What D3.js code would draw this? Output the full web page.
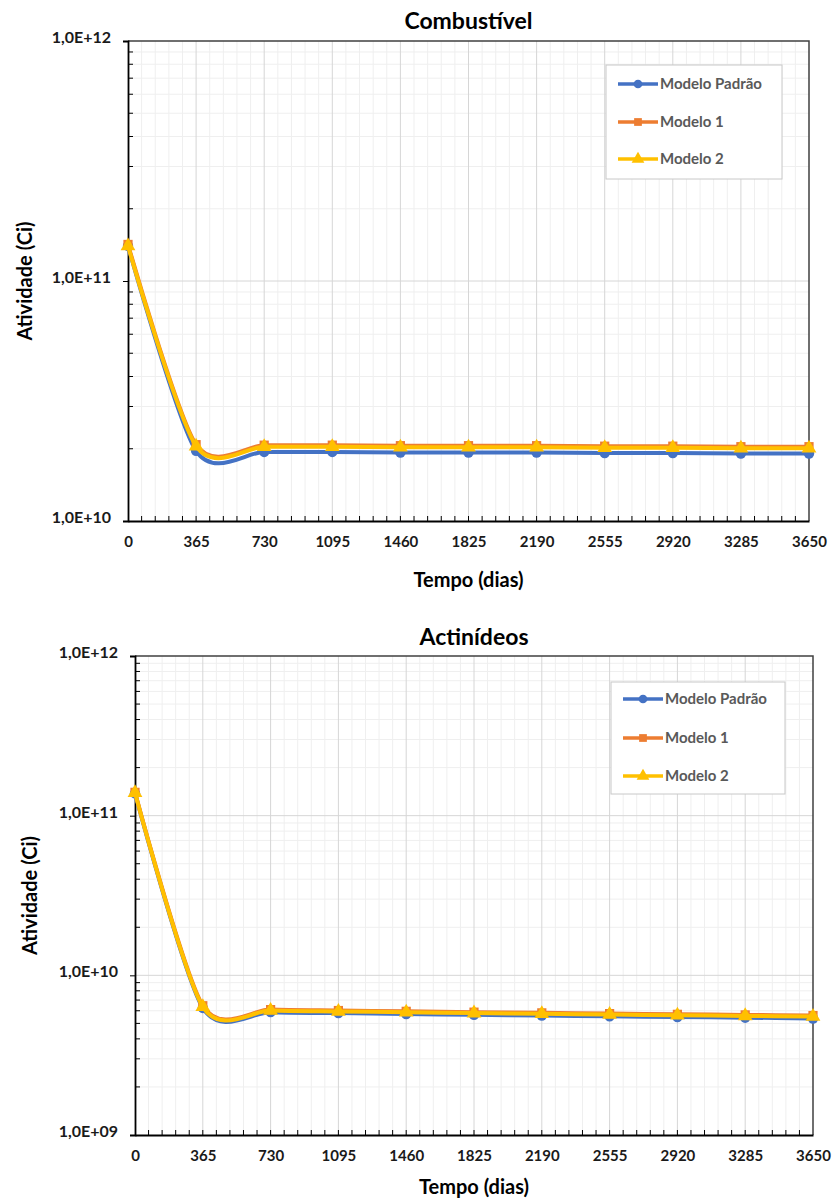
<!DOCTYPE html>
<html>
<head>
<meta charset="utf-8">
<script src="https://cdn.jsdelivr.net/npm/d3@7"></script>
<style>
  html, body { margin: 0; padding: 0; background: #fff; }
  svg { display: block; font-family: Lato, "Open Sans", sans-serif; }
</style>
</head>
<body>
<svg id="fig" width="832" height="1203"></svg>
<script>
// Time axis (days)
const days = [0, 365, 730, 1095, 1460, 1825, 2190, 2555, 2920, 3285, 3650];
const xTickLabels = ["0", "365", "730", "1095", "1460", "1825", "2190", "2555", "2920", "3285", "3650"];

// Activity (Ci) — fuel
const combPadrao  = [1.40e11, 1.96e10, 1.94e10, 1.94e10, 1.93e10, 1.93e10, 1.93e10, 1.92e10, 1.92e10, 1.91e10, 1.91e10];
const combModelo1 = [1.42e11, 2.08e10, 2.07e10, 2.07e10, 2.06e10, 2.06e10, 2.06e10, 2.05e10, 2.05e10, 2.04e10, 2.04e10];
const combModelo2 = [1.40e11, 2.05e10, 2.04e10, 2.04e10, 2.03e10, 2.03e10, 2.03e10, 2.02e10, 2.02e10, 2.01e10, 2.01e10];

// Activity (Ci) — actinides
const actPadrao  = [1.38e11, 6.25e9, 5.88e9, 5.80e9, 5.73e9, 5.66e9, 5.60e9, 5.54e9, 5.48e9, 5.43e9, 5.37e9];
const actModelo1 = [1.40e11, 6.45e9, 6.10e9, 6.02e9, 5.95e9, 5.88e9, 5.82e9, 5.76e9, 5.70e9, 5.65e9, 5.60e9];
const actModelo2 = [1.39e11, 6.35e9, 6.02e9, 5.94e9, 5.87e9, 5.80e9, 5.74e9, 5.68e9, 5.62e9, 5.57e9, 5.52e9];

const seriesNames = ["Modelo Padrão", "Modelo 1", "Modelo 2"];
const yTickLabelsTop = ["1,0E+10", "1,0E+11", "1,0E+12"];
const yTickLabelsBottom = ["1,0E+09", "1,0E+10", "1,0E+11", "1,0E+12"];

const colors = ["#4472C4", "#ED7D31", "#FFC000"];
const markers = [d3.symbolCircle, d3.symbolSquare, d3.symbolTriangle];

const svg = d3.select("#fig");

function drawChart(cfg) {
  const { left, right, top, bottom, yDomain, yLabels, title, series, legend } = cfg;
  const g = svg.append("g");

  const x = d3.scaleLinear().domain([0, 3650]).range([left, right]);
  const y = d3.scaleLog().domain(yDomain).range([bottom, top]);

  const lo = Math.round(Math.log10(yDomain[0]));
  const hi = Math.round(Math.log10(yDomain[1]));
  const majorY = d3.range(lo, hi + 1).map(e => Math.pow(10, e));
  const minorY = [];
  for (let e = lo; e < hi; e++) for (let k = 2; k <= 9; k++) minorY.push(k * Math.pow(10, e));
  const minorX = d3.range(0, 3650 + 1, 73).filter(v => v % 365 !== 0);

  // minor grid
  g.append("g").selectAll("line").data(minorX).join("line")
    .attr("x1", d => x(d)).attr("x2", d => x(d)).attr("y1", top).attr("y2", bottom)
    .attr("stroke", "#efefef").attr("stroke-width", 1);
  g.append("g").selectAll("line").data(minorY).join("line")
    .attr("x1", left).attr("x2", right).attr("y1", d => y(d)).attr("y2", d => y(d))
    .attr("stroke", "#efefef").attr("stroke-width", 1);
  // major grid
  g.append("g").selectAll("line").data(days.slice(1, -1)).join("line")
    .attr("x1", d => x(d)).attr("x2", d => x(d)).attr("y1", top).attr("y2", bottom)
    .attr("stroke", "#d6d6d6").attr("stroke-width", 1);
  g.append("g").selectAll("line").data(majorY.slice(1, -1)).join("line")
    .attr("x1", left).attr("x2", right).attr("y1", d => y(d)).attr("y2", d => y(d))
    .attr("stroke", "#d6d6d6").attr("stroke-width", 1);

  // plot frame (top / right)
  g.append("path")
    .attr("d", `M${left},${top}H${right}V${bottom}`)
    .attr("fill", "none").attr("stroke", "#404040").attr("stroke-width", 1.5);

  // x axis
  const xAxis = d3.axisBottom(x).tickValues(days).tickFormat((d, i) => xTickLabels[i]).tickSize(0).tickPadding(15);
  const xg = g.append("g").attr("transform", `translate(0,${bottom})`).call(xAxis);
  xg.select(".domain").attr("stroke", "#000").attr("stroke-width", 1.8);
  xg.selectAll("text").attr("font-size", 15).attr("font-weight", 700).attr("fill", "#1a1a1a").attr("font-family", "Lato, sans-serif");
  g.append("g").selectAll("line").data(d3.range(73, 3650, 73)).join("line")
    .attr("x1", d => x(d)).attr("x2", d => x(d)).attr("y1", bottom).attr("y2", bottom - 5)
    .attr("stroke", "#000").attr("stroke-width", 1);

  // y axis
  const yAxis = d3.axisLeft(y).tickValues(majorY).tickFormat((d, i) => yLabels[i]).tickSize(5).tickPadding(12);
  const yg = g.append("g").attr("transform", `translate(${left},0)`).call(yAxis);
  yg.select(".domain").attr("stroke", "#000").attr("stroke-width", 1.8);
  yg.selectAll(".tick line").attr("stroke", "#000");
  yg.selectAll("text").attr("font-size", 16).attr("font-weight", 700).attr("fill", "#1a1a1a").attr("font-family", "Lato, sans-serif")
    .attr("dy", "0.1em");
  g.append("g").selectAll("line").data(minorY).join("line")
    .attr("x1", left).attr("x2", left + 5).attr("y1", d => y(d)).attr("y2", d => y(d))
    .attr("stroke", "#000").attr("stroke-width", 1);

  // series
  const line = d3.line()
    .x((d, i) => x(days[i]))
    .y(d => y(d))
    .curve(d3.curveCardinal.tension(0.2));

  series.forEach((vals, s) => {
    g.append("path").datum(vals)
      .attr("d", line)
      .attr("fill", "none").attr("stroke", colors[s]).attr("stroke-width", 4)
      .attr("stroke-linejoin", "round");
    g.append("g").selectAll("path").data(vals).join("path")
      .attr("transform", (d, i) => `translate(${x(days[i])},${y(d)})`)
      .attr("d", d3.symbol().type(markers[s]).size(s === 2 ? 95 : 85))
      .attr("fill", colors[s]);
  });

  // title and axis titles
  const cx = (left + right) / 2;
  g.append("text").attr("x", cx).attr("y", cfg.titleY).attr("text-anchor", "middle")
    .attr("font-size", 23).attr("font-weight", 700).attr("fill", "#000").text(title);
  g.append("text").attr("x", cx).attr("y", cfg.xTitleY).attr("text-anchor", "middle")
    .attr("font-size", 20).attr("font-weight", 700).attr("fill", "#000").text("Tempo (dias)");
  g.append("text")
    .attr("transform", `translate(${cfg.yTitleX},${(top + bottom) / 2}) rotate(-90)`)
    .attr("text-anchor", "middle").attr("dy", "0.35em")
    .attr("font-size", 20).attr("font-weight", 700).attr("fill", "#000").text("Atividade (Ci)");

  // legend
  const lg = g.append("g").attr("transform", `translate(${legend.x},${legend.y})`);
  lg.append("rect").attr("width", legend.w).attr("height", legend.h)
    .attr("fill", "#fff").attr("stroke", "#c8c8c8").attr("stroke-width", 1);
  seriesNames.forEach((name, s) => {
    const ry = legend.rows[s];
    lg.append("line").attr("x1", 12).attr("x2", 52).attr("y1", ry).attr("y2", ry)
      .attr("stroke", colors[s]).attr("stroke-width", 3.5);
    lg.append("path").attr("transform", `translate(32,${ry})`)
      .attr("d", d3.symbol().type(markers[s]).size(s === 2 ? 70 : 60)).attr("fill", colors[s]);
    lg.append("text").attr("x", 54).attr("y", ry).attr("dy", "0.35em")
      .attr("font-size", 15).attr("font-weight", 700).attr("fill", "#595959").text(name);
  });
}

drawChart({
  left: 128, right: 809, top: 41, bottom: 521,
  yDomain: [1e10, 1e12], yLabels: yTickLabelsTop,
  title: "Combustível", titleY: 29, xTitleY: 587,
  series: [combPadrao, combModelo1, combModelo2],
  yTitleX: 25,
  legend: { x: 606, y: 65, w: 176, h: 114, rows: [19, 57, 94] }
});

drawChart({
  left: 135, right: 813, top: 656, bottom: 1135,
  yDomain: [1e9, 1e12], yLabels: yTickLabelsBottom,
  title: "Actinídeos", titleY: 645, xTitleY: 1194,
  series: [actPadrao, actModelo1, actModelo2],
  yTitleX: 30,
  legend: { x: 611, y: 682, w: 174, h: 112, rows: [17, 56, 94] }
});
</script>
</body>
</html>
